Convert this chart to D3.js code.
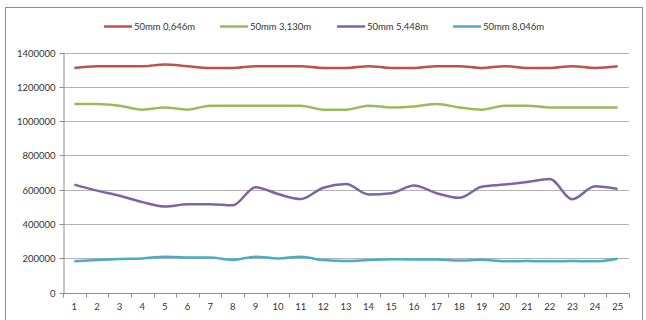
<!DOCTYPE html>
<html><head><meta charset="utf-8">
<script src="https://cdn.jsdelivr.net/npm/d3@7"></script>
<style>body{margin:0;background:#fff}svg{display:block}</style>
</head><body><svg id="c" width="646" height="320"></svg>
<script>
const categories = d3.range(1, 26).map(String);
const seriesNames = ["50mm 0,646m", "50mm 3,130m", "50mm 5,448m", "50mm 8,046m"];
const seriesColors = ["#c0504d", "#9bbb59", "#8064a2", "#4bacc6"];
const s1 = [1310000,1320000,1320000,1320000,1330000,1320000,1310000,1310000,1320000,1320000,1320000,1310000,1310000,1320000,1310000,1310000,1320000,1320000,1310000,1320000,1310000,1310000,1320000,1310000,1320000];
const s2 = [1100000,1100000,1090000,1067000,1080000,1067000,1090000,1090000,1090000,1090000,1090000,1067000,1067000,1090000,1080000,1085000,1100000,1080000,1067000,1090000,1090000,1080000,1080000,1080000,1080000];
const s3 = [630000,595000,565000,528000,502000,515000,515000,509000,615000,575000,546000,612000,633000,573000,580000,625000,580000,553000,618000,630000,645000,662000,545000,620000,605000];
const s4 = [183000,190000,196000,200000,210000,205000,205000,192000,210000,200000,210000,190000,185000,190000,195000,194000,193000,187000,192000,183000,185000,183000,185000,183000,198000];
const allSeries = [s1, s2, s3, s4];
const yTicks = [0,200000,400000,600000,800000,1000000,1200000,1400000];

const svg = d3.select("#c");
const font = "Lato, 'Open Sans', sans-serif";
svg.append("rect").attr("x",5.5).attr("y",7.5).attr("width",637).attr("height",330)
  .attr("fill","#fff").attr("stroke","#8c8c8c").attr("stroke-width",1);

const L = 63, R = 629, T = 52.5, B = 292.7;
const x = d3.scaleBand().domain(categories).range([L, R]);
const y = d3.scaleLinear().domain([0, 1400000]).range([B, T]);

// gridlines
svg.append("g").selectAll("line").data(yTicks.filter(d=>d>0)).join("line")
  .attr("x1", L).attr("x2", R).attr("y1", d=>Math.round(y(d))+0.5).attr("y2", d=>Math.round(y(d))+0.5)
  .attr("stroke","#b3b3b3").attr("stroke-width",1);

// y axis
const yAxis = svg.append("g").attr("transform",`translate(${L+0.5},0)`)
  .call(d3.axisLeft(y).tickValues(yTicks).tickSize(4).tickSizeOuter(0).tickFormat(d3.format("d")).tickPadding(4));
yAxis.select(".domain").attr("stroke","#8c8c8c");
yAxis.selectAll(".tick line").attr("stroke","#8c8c8c");
yAxis.selectAll(".tick").attr("transform", d=>`translate(0,${Math.round(y(d))+0.5})`);
yAxis.selectAll("text").attr("font-family",font).attr("font-size",9.5).attr("fill","#333");

// x axis
const xg = svg.append("g").attr("transform",`translate(0,${Math.round(B)+0.5})`);
xg.append("line").attr("x1",L).attr("x2",R).attr("stroke","#8c8c8c");
xg.selectAll("line.t").data(categories.concat(["end"])).join("line").attr("class","t")
  .attr("x1",(d,i)=> i<categories.length ? Math.round(x(d))+0.5 : R+0.5)
  .attr("x2",(d,i)=> i<categories.length ? Math.round(x(d))+0.5 : R+0.5)
  .attr("y1",0).attr("y2",4).attr("stroke","#8c8c8c");
xg.selectAll("text").data(categories).join("text")
  .attr("x", d=>x(d)+x.bandwidth()/2).attr("y",16)
  .attr("text-anchor","middle").attr("font-family",font).attr("font-size",9.5).attr("fill","#333").text(d=>d);

// lines
const line = d3.line().x((d,i)=>x(categories[i])+x.bandwidth()/2).y(d=>y(d)).curve(d3.curveMonotoneX);
allSeries.forEach((s,k)=>{
  svg.append("path").datum(s).attr("d",line).attr("fill","none")
    .attr("stroke",seriesColors[k]).attr("stroke-width",2.5).attr("stroke-linejoin","round");
});

// legend
const legendX = [104, 220, 337, 453];
seriesNames.forEach((n,k)=>{
  const g = svg.append("g").attr("transform",`translate(${legendX[k]},26.5)`);
  g.append("line").attr("x1",0).attr("x2",28).attr("stroke",seriesColors[k]).attr("stroke-width",2.5);
  g.append("text").attr("x",30).attr("y",3.5).attr("font-family",font).attr("font-size",9.5).attr("fill","#333").text(n);
});
</script></body></html>
